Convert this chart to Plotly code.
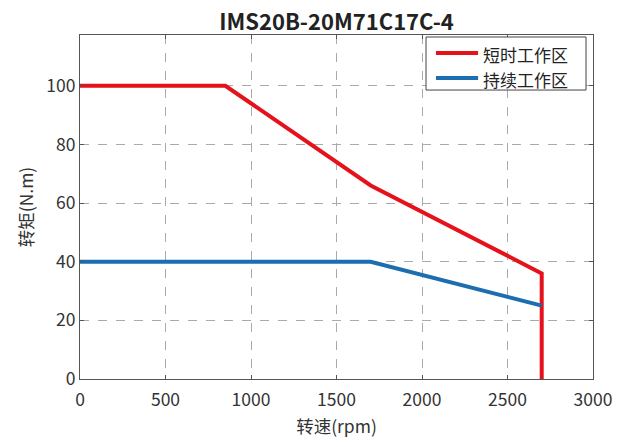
import plotly.graph_objects as go

title = "IMS20B-20M71C17C-4"
short_name = "短时工作区"
cont_name = "持续工作区"
short_x = [0, 850, 1700, 2700, 2700]
short_y = [100, 100, 66, 36, 0]
cont_x = [0, 1700, 2700]
cont_y = [40, 40, 25]
x_ticks = [0, 500, 1000, 1500, 2000, 2500, 3000]
y_ticks = [0, 20, 40, 60, 80, 100]

FONT = "Noto Sans CJK SC, Noto Sans, sans-serif"
TXT = "#333333"
RED = "#e5121b"
BLUE = "#1c6eb0"

fig = go.Figure()
fig.add_trace(go.Scatter(x=short_x, y=short_y, mode="lines", name=short_name,
                         line=dict(color=RED, width=4), showlegend=False))
fig.add_trace(go.Scatter(x=cont_x, y=cont_y, mode="lines", name=cont_name,
                         line=dict(color=BLUE, width=4), showlegend=False))

axis_common = dict(showline=True, linecolor="#555555", linewidth=1, mirror="ticks",
                   ticks="inside", ticklen=4, tickcolor="#555555",
                   showgrid=True, gridcolor="#aaaaaa", griddash="dash", gridwidth=1,
                   zeroline=False, automargin=False,
                   tickfont=dict(size=17.5, color=TXT, family=FONT))

# manual legend box (paper coordinates)
lx0, lx1, ly0, ly1 = 0.6745, 0.9864, 0.840, 0.9942
shapes = [
    dict(type="rect", xref="paper", yref="paper", x0=lx0, x1=lx1, y0=ly0, y1=ly1,
         fillcolor="white", line=dict(color="#444444", width=1), layer="above"),
]
annotations = []
for name, color, yy in [(short_name, RED, 0.9477), (cont_name, BLUE, 0.875)]:
    shapes.append(dict(type="line", xref="paper", yref="paper", x0=0.694, x1=0.776,
                       y0=yy, y1=yy, line=dict(color=color, width=4), layer="above"))
    annotations.append(dict(text=name, xref="paper", yref="paper", x=0.7817, y=yy - 0.005,
                            xanchor="left", yanchor="middle", showarrow=False,
                            font=dict(size=17, color="#222222", family=FONT)))

fig.update_layout(
    width=621, height=447,
    margin=dict(l=80, r=28, t=35, b=68),
    paper_bgcolor="white", plot_bgcolor="white",
    title=dict(text="<b>" + title + "</b>", x=0.5, xref="paper", xanchor="center",
               yref="container", y=1 - 22 / 447, yanchor="middle",
               font=dict(size=22, color="#222222", family=FONT)),
    font=dict(family=FONT, color=TXT),
    xaxis=dict(range=[0, 3000], tickvals=x_ticks, ticklabelstandoff=5, **axis_common,
               title=dict(text="转速(rpm)", font=dict(size=17.5, color=TXT, family=FONT), standoff=10)),
    yaxis=dict(range=[0, 117.3], tickvals=y_ticks, **axis_common,
               title=dict(text="转矩(N.m)", font=dict(size=17.5, color=TXT, family=FONT), standoff=8)),
    shapes=shapes,
    annotations=annotations,
    showlegend=False,
)

fig.write_html("out.html", config={"displayModeBar": False},
               post_script="document.body.style.margin='0';document.body.style.padding='0';")
